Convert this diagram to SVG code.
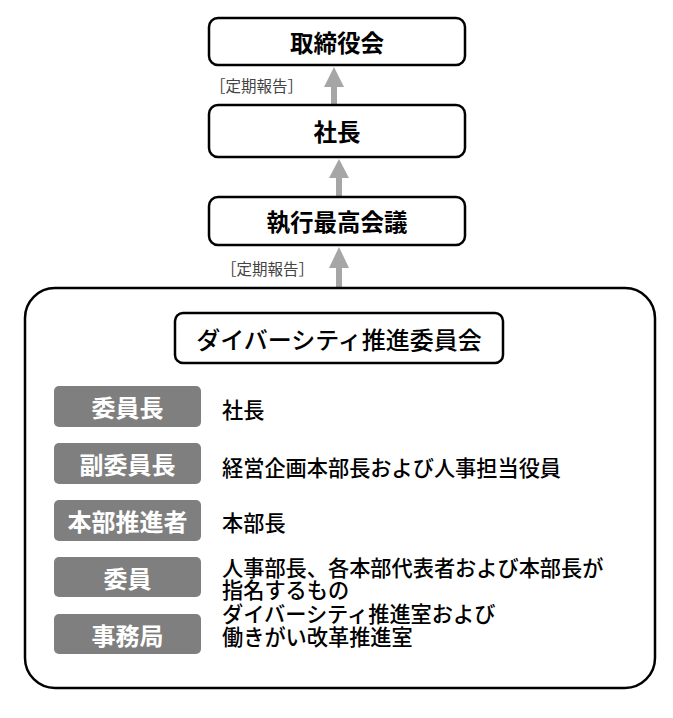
<svg xmlns="http://www.w3.org/2000/svg" width="673" height="718" viewBox="0 0 673 718">
<style>
  text { font-family: "Noto Sans CJK JP", "Noto Sans", sans-serif; }
  .box { fill: #ffffff; stroke: #000000; stroke-width: 2.5; }
  .head { font-size: 23.5px; font-weight: bold; fill: #000; text-anchor: middle; dominant-baseline: central; }
  .title { font-size: 24px; font-weight: 500; fill: #000; text-anchor: middle; dominant-baseline: central; }
  .tag { fill: #7f7f7f; }
  .tagtxt { font-size: 24px; font-weight: bold; fill: #ffffff; text-anchor: middle; dominant-baseline: central; }
  .desc { font-size: 21.2px; font-weight: 500; fill: #000; dominant-baseline: central; }
  .note { font-size: 15.5px; fill: #444; dominant-baseline: central; }
  .arrow { fill: #a6a6a6; }
</style>
<rect width="673" height="718" fill="#ffffff"/>

<g id="connectors">
  <path class="arrow" d="M334 67 L344 87 L337 87 L337 106 L331 106 L331 87 L324 87 Z"/>
  <path class="arrow" d="M339 159 L349 178 L342 178 L342 197 L336 197 L336 178 L329 178 Z"/>
  <path class="arrow" d="M339 247 L349 268 L342 268 L342 289 L336 289 L336 268 L329 268 Z"/>
  <text class="note" x="210" y="85">［定期報告］</text>
  <text class="note" x="221" y="268">［定期報告］</text>
</g>

<g id="board">
  <rect class="box" x="209" y="18" width="256" height="47" rx="9"/>
  <text class="head" x="337" y="41.5">取締役会</text>
</g>

<g id="president">
  <rect class="box" x="209" y="105" width="256" height="52" rx="9"/>
  <text class="head" x="337" y="131">社長</text>
</g>

<g id="exec-council">
  <rect class="box" x="209" y="197" width="256" height="48" rx="9"/>
  <text class="head" x="337" y="221">執行最高会議</text>
</g>

<g id="diversity-committee">
  <rect class="box" x="25" y="288" width="630" height="400" rx="30"/>
  <rect class="box" x="175" y="313" width="328" height="50" rx="8"/>
  <text class="title" x="339" y="338">ダイバーシティ推進委員会</text>
</g>

<g id="row-chair">
  <rect class="tag" x="54" y="386" width="147" height="41" rx="5"/>
  <text class="tagtxt" x="127.5" y="406.5">委員長</text>
  <text class="desc" x="222" y="408">社長</text>
</g>

<g id="row-vicechair">
  <rect class="tag" x="54" y="443" width="147" height="41" rx="5"/>
  <text class="tagtxt" x="127.5" y="463.5">副委員長</text>
  <text class="desc" x="222" y="466">経営企画本部長および人事担当役員</text>
</g>

<g id="row-promoter">
  <rect class="tag" x="54" y="500" width="147" height="41" rx="5"/>
  <text class="tagtxt" x="127.5" y="520.5">本部推進者</text>
  <text class="desc" x="222" y="521">本部長</text>
</g>

<g id="row-member">
  <rect class="tag" x="54" y="557" width="147" height="40" rx="5"/>
  <text class="tagtxt" x="127.5" y="577">委員</text>
  <text class="desc" x="222" y="566">人事部長、各本部代表者および本部長が</text>
  <text class="desc" x="222" y="588">指名するもの</text>
</g>

<g id="row-secretariat">
  <rect class="tag" x="54" y="614" width="147" height="40" rx="5"/>
  <text class="tagtxt" x="127.5" y="634">事務局</text>
  <text class="desc" x="222" y="612">ダイバーシティ推進室および</text>
  <text class="desc" x="222" y="635">働きがい改革推進室</text>
</g>
</svg>
